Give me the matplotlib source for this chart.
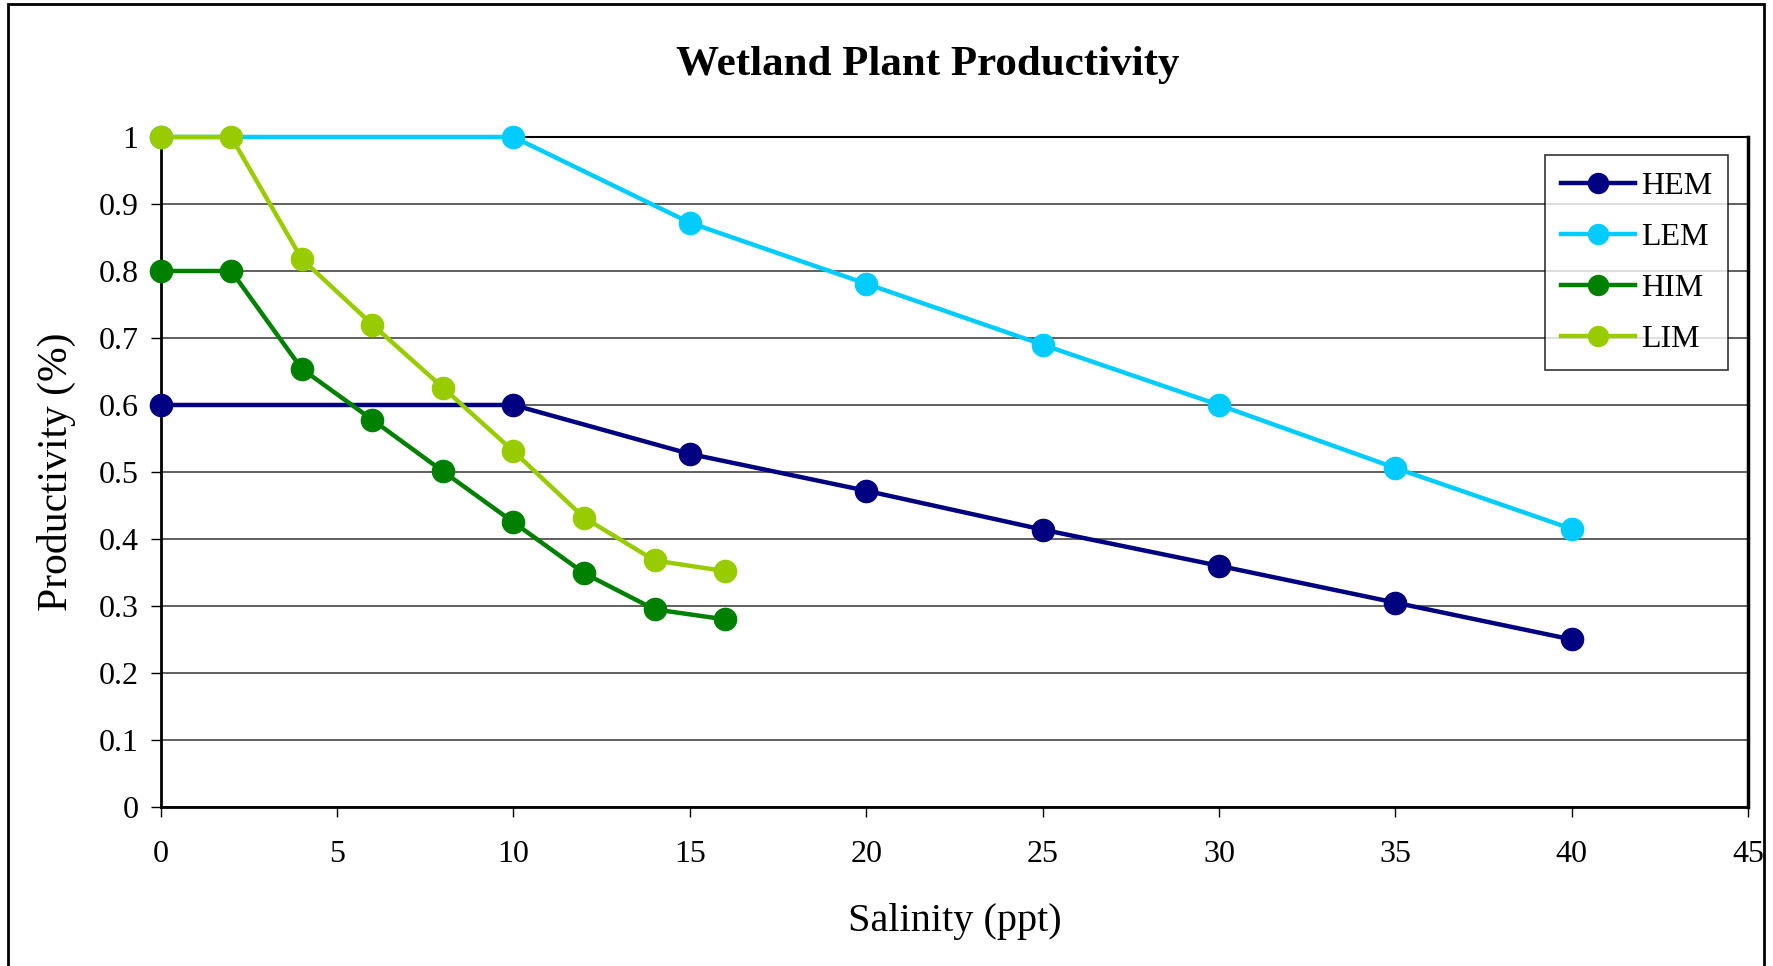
import matplotlib.pyplot as plt
from matplotlib.patches import Rectangle

# salinity (ppt) for each series
hem_x = [0, 10, 15, 20, 25, 30, 35, 40]
hem_y = [0.6, 0.6, 0.527, 0.472, 0.414, 0.36, 0.305, 0.25]

lem_x = [0, 10, 15, 20, 25, 30, 35, 40]
lem_y = [1.0, 1.0, 0.872, 0.781, 0.69, 0.6, 0.506, 0.415]

him_x = [0, 2, 4, 6, 8, 10, 12, 14, 16]
him_y = [0.8, 0.8, 0.654, 0.578, 0.501, 0.425, 0.349, 0.295, 0.28]

lim_x = [0, 2, 4, 6, 8, 10, 12, 14, 16]
lim_y = [1.0, 1.0, 0.818, 0.72, 0.626, 0.531, 0.432, 0.368, 0.352]

x_ticks = [0, 5, 10, 15, 20, 25, 30, 35, 40, 45]
y_ticks = [0, 0.1, 0.2, 0.3, 0.4, 0.5, 0.6, 0.7, 0.8, 0.9, 1]

plt.rcParams['font.family'] = ['Liberation Serif', 'DejaVu Serif']

fig = plt.figure(figsize=(17.73, 9.66), dpi=100)
ax = fig.add_axes([0.0906, 0.1646, 0.8954, 0.6936])

series = [(hem_x, hem_y, '#000080', 'HEM'),
          (lem_x, lem_y, '#00CCFF', 'LEM'),
          (him_x, him_y, '#008000', 'HIM'),
          (lim_x, lim_y, '#99CC00', 'LIM')]
for xs, ys, c, name in series:
    ax.plot(xs, ys, color=c, lw=3.2, marker='o', ms=16, label=name,
            zorder=3, clip_on=False)

ax.set_xlim(0, 45)
ax.set_ylim(0, 1)
ax.set_xticks(x_ticks)
ax.set_yticks(y_ticks)
ax.set_yticklabels(['0', '0.1', '0.2', '0.3', '0.4', '0.5', '0.6', '0.7', '0.8', '0.9', '1'])
ax.tick_params(axis='both', labelsize=23, direction='out', length=7, width=1)
ax.tick_params(axis='x', pad=17)
ax.tick_params(axis='y', pad=9)

ax.grid(axis='y', color='#444444', lw=1.2, zorder=1)
for side in ['left', 'bottom']:
    ax.spines[side].set_linewidth(2)
ax.spines['right'].set_linewidth(2.5)
ax.spines['top'].set_linewidth(1.5)

ax.set_xlabel('Salinity (ppt)', fontsize=29, labelpad=24)
ax.set_ylabel('Productivity (%)', fontsize=30, labelpad=16)
fig.suptitle('Wetland Plant Productivity', fontsize=31, fontweight='bold', x=0.523, y=0.952)

leg = ax.legend(loc='upper right', bbox_to_anchor=(0.9875, 0.9725), fontsize=23,
                frameon=True, fancybox=False, edgecolor='black', handlelength=2.3,
                labelspacing=0.68, handletextpad=0.2, borderpad=0.5, borderaxespad=0,
                markerscale=0.9)
leg.get_frame().set_linewidth(1.2)

# outer chart border
fig.patches.append(Rectangle((8 / 1773, -0.02), 1756 / 1773, 1.02 - 4 / 966,
                             transform=fig.transFigure, fill=False,
                             edgecolor='black', lw=2))

fig.savefig('out.png', dpi=100)
